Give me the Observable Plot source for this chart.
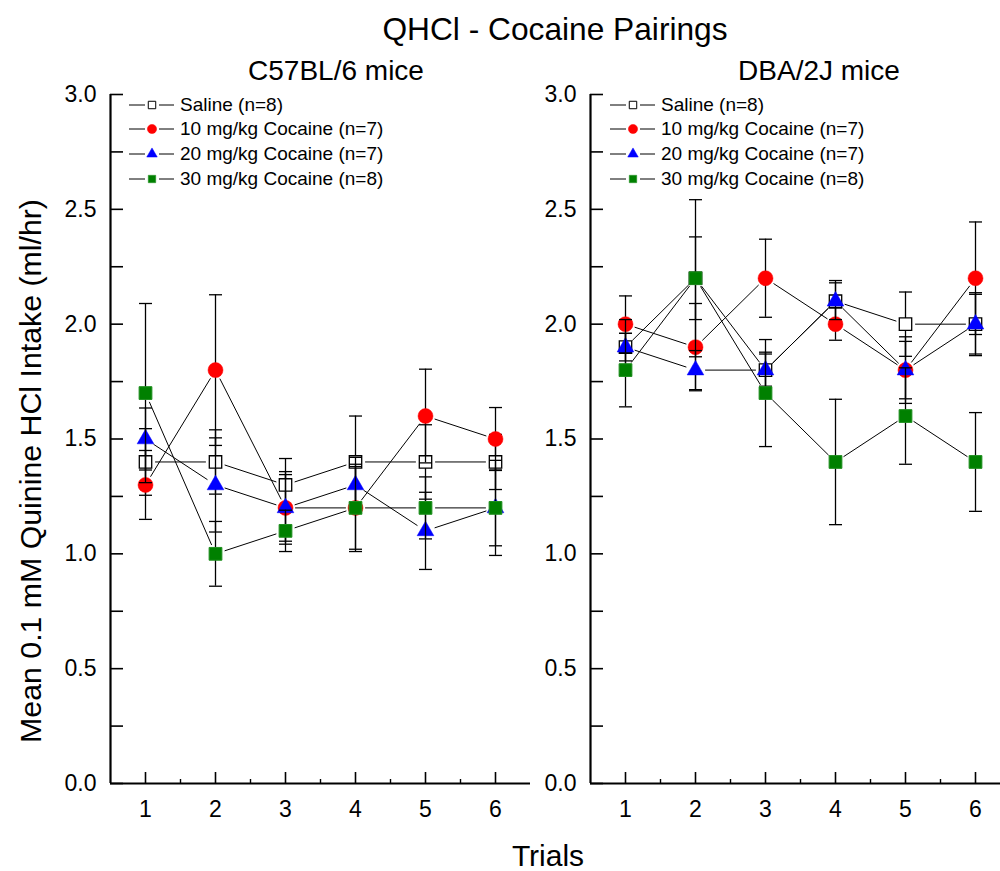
<!DOCTYPE html>
<html>
<head>
<meta charset="utf-8">
<script src="https://cdn.jsdelivr.net/npm/d3@7"></script>
<script src="https://cdn.jsdelivr.net/npm/@observablehq/plot@0.6"></script>
<style>
  html, body { margin: 0; padding: 0; background: #fff; overflow: hidden; }
  #wrap { position: relative; width: 1000px; height: 871px; overflow: hidden;
          font-family: "Liberation Sans", Arial, Helvetica, sans-serif; color: #000; }
  #wrap > svg.plot { position: absolute; left: 0; top: 0; max-width: none !important;
          width: 1011px !important; height: 871px !important; }
  .lbl { position: absolute; white-space: nowrap; line-height: 1; transform: translate(-50%, -50%); }
  .leg { position: absolute; white-space: nowrap; line-height: 1; font-size: 19px; }
  .legsym { position: absolute; }
</style>
</head>
<body>
<div id="wrap"></div>
<script>
// Facets (mouse strains), trials and treatment groups
const strains = ["C57BL/6", "DBA/2J"];
const strainTitles = ["C57BL/6 mice", "DBA/2J mice"];
const trials = [1, 2, 3, 4, 5, 6];
const groups = ["Saline (n=8)", "10 mg/kg Cocaine (n=7)", "20 mg/kg Cocaine (n=7)", "30 mg/kg Cocaine (n=8)"];

// C57BL/6: mean intake (ml/hr) per trial, and SEM
const c57Saline = [1.4, 1.4, 1.3, 1.4, 1.4, 1.4];
const c57Coc10  = [1.3, 1.8, 1.2, 1.2, 1.6, 1.5];
const c57Coc20  = [1.5, 1.3, 1.2, 1.3, 1.1, 1.2];
const c57Coc30  = [1.7, 1.0, 1.1, 1.2, 1.2, 1.2];
const c57SalineErr = [0.145, 0.14, 0.115, 0.2, 0.162, 0.12];
const c57Coc10Err  = [0.15, 0.328, 0.158, 0.19, 0.204, 0.137];
const c57Coc20Err  = [0.135, 0.205, 0.145, 0.12, 0.168, 0.207];
const c57Coc30Err  = [0.39, 0.141, 0.09, 0.18, 0.135, 0.165];

// DBA/2J: mean intake (ml/hr) per trial, and SEM
const dbaSaline = [1.9, 2.2, 1.8, 2.1, 2.0, 2.0];
const dbaCoc10  = [2.0, 1.9, 2.2, 2.0, 1.8, 2.2];
const dbaCoc20  = [1.9, 1.8, 1.8, 2.1, 1.8, 2.0];
const dbaCoc30  = [1.8, 2.2, 1.7, 1.4, 1.6, 1.4];
const dbaSalineErr = [0.06, 0.18, 0.078, 0.09, 0.14, 0.137];
const dbaCoc10Err  = [0.123, 0.19, 0.17, 0.07, 0.145, 0.245];
const dbaCoc20Err  = [0.12, 0.085, 0.07, 0.08, 0.125, 0.13];
const dbaCoc30Err  = [0.16, 0.342, 0.233, 0.273, 0.21, 0.215];

// Axis ticks
const yMajorTicks = [0, 0.5, 1.0, 1.5, 2.0, 2.5, 3.0];
const yAllTicks = [0, 0.25, 0.5, 0.75, 1.0, 1.25, 1.5, 1.75, 2.0, 2.25, 2.5, 2.75, 3.0];
const xMinorTicks = [1.5, 2.5, 3.5, 4.5, 5.5];

const titleText = "QHCl - Cocaine Pairings";
const yLabelText = "Mean 0.1 mM Quinine HCl Intake (ml/hr)";
const xLabelText = "Trials";

// ---- tidy tables built from the arrays above ----
const means = {"C57BL/6": [c57Saline, c57Coc10, c57Coc20, c57Coc30],
               "DBA/2J": [dbaSaline, dbaCoc10, dbaCoc20, dbaCoc30]};
const errs  = {"C57BL/6": [c57SalineErr, c57Coc10Err, c57Coc20Err, c57Coc30Err],
               "DBA/2J": [dbaSalineErr, dbaCoc10Err, dbaCoc20Err, dbaCoc30Err]};

const rows = [];
const segments = [];
for (const s of strains) {
  groups.forEach((g, gi) => {
    trials.forEach((t, ti) => {
      rows.push({strain: s, group: g, trial: t, mean: means[s][gi][ti], err: errs[s][gi][ti]});
      if (ti < trials.length - 1) {
        segments.push({strain: s, group: g, t1: t, m1: means[s][gi][ti], t2: trials[ti + 1], m2: means[s][gi][ti + 1]});
      }
    });
  });
}

// marker styling per group
const groupSymbol = ["square", "circle", "triangle", "square"];
const groupFill = ["#ffffff", "#ff0000", "#0000ff", "#008000"];
const groupStroke = ["#000000", "#ff0000", "#0000ff", "#1f8f1f"];
const groupStrokeWidth = [1.3, 0.5, 0.5, 1];
const groupR = [7.0, 7.5, 6.2, 7.2];

// horizontal error-bar cap
const capSymbol = {draw(ctx) { ctx.moveTo(-6.5, 0); ctx.lineTo(6.5, 0); }};

const seriesMarks = [];
groups.forEach((g, gi) => {
  const gr = rows.filter(d => d.group === g);
  const gs = segments.filter(d => d.group === g);
  seriesMarks.push(
    Plot.arrow(gs, {x1: "t1", y1: "m1", x2: "t2", y2: "m2", fx: "strain",
      headLength: 0, inset: 10, stroke: "#000", strokeWidth: 1}),
    Plot.ruleX(gr, {x: "trial", y1: d => d.mean - d.err, y2: d => d.mean + d.err, fx: "strain",
      stroke: "#000", strokeWidth: 1.3}),
    Plot.dot(gr, {x: "trial", y: d => d.mean + d.err, fx: "strain", symbol: capSymbol, r: 5,
      stroke: "#000", strokeWidth: 1.3, fill: "none"}),
    Plot.dot(gr, {x: "trial", y: d => d.mean - d.err, fx: "strain", symbol: capSymbol, r: 5,
      stroke: "#000", strokeWidth: 1.3, fill: "none"}),
    Plot.dot(gr, {x: "trial", y: "mean", fx: "strain", symbol: groupSymbol[gi], r: groupR[gi],
      fill: groupFill[gi], stroke: groupStroke[gi], strokeWidth: groupStrokeWidth[gi]})
  );
});

const chart = Plot.plot({
  width: 1011,
  height: 871,
  marginLeft: 109,
  marginRight: 0,
  marginTop: 94,
  marginBottom: 88,
  style: {fontFamily: "'Liberation Sans', Arial, sans-serif", background: "#fff", color: "#000", overflow: "visible"},
  fx: {domain: strains, paddingInner: 0.1247, paddingOuter: 0, axis: null},
  x: {domain: [0.5, 6.5]},
  y: {domain: [0, 3]},
  marks: [
    // axis ticks (inward) and labels, repeated in each panel
    Plot.axisY(yAllTicks, {tickSize: -13, tickFormat: () => "", strokeWidth: 1.6, facetAnchor: null, label: null}),
    Plot.axisY(yMajorTicks, {tickSize: 0, tickPadding: 14, tickFormat: d3.format(".1f"), fontSize: 23, facetAnchor: null, label: null}),
    Plot.axisX(trials, {tickSize: -11, tickFormat: () => "", strokeWidth: 1.6, facetAnchor: null, label: null}),
    Plot.axisX(xMinorTicks, {tickSize: -4, tickFormat: () => "", strokeWidth: 1.4, facetAnchor: null, label: null}),
    Plot.axisX(trials, {tickSize: 0, tickPadding: 17, tickFormat: d3.format("d"), fontSize: 23, facetAnchor: null, label: null}),
    Plot.ruleX([0.5], {stroke: "#000", strokeWidth: 2.2}),
    Plot.ruleY([0], {stroke: "#000", strokeWidth: 2.2}),
    ...seriesMarks
  ]
});
chart.classList.add("plot");

const wrap = document.getElementById("wrap");
wrap.appendChild(chart);

// titles and axis labels
function addLabel(text, x, y, size, extra) {
  const d = document.createElement("div");
  d.className = "lbl";
  d.textContent = text;
  d.style.left = x + "px";
  d.style.top = y + "px";
  d.style.fontSize = size + "px";
  if (extra) d.style.transform = extra;
  wrap.appendChild(d);
  return d;
}
addLabel(titleText, 555, 30, 31.7);
addLabel(strainTitles[0], 336, 71, 28);
addLabel(strainTitles[1], 819, 71, 28);
addLabel(xLabelText, 548, 856, 30);
addLabel(yLabelText, 31, 471, 30.3, "translate(-50%, -50%) rotate(-90deg)");

// legend, one per panel
const panelOffsets = [0, 481];
panelOffsets.forEach(ox => {
  groups.forEach((g, gi) => {
    const cy = 104.5 + gi * 24.7;
    const svg = d3.select(wrap).append("svg")
      .attr("class", "legsym")
      .attr("width", 50).attr("height", 20)
      .style("left", (127 + ox) + "px").style("top", (cy - 10) + "px");
    svg.append("line").attr("x1", 2).attr("x2", 18).attr("y1", 10).attr("y2", 10)
      .attr("stroke", "#000").attr("stroke-width", 1);
    svg.append("line").attr("x1", 32).attr("x2", 47).attr("y1", 10).attr("y2", 10)
      .attr("stroke", "#000").attr("stroke-width", 1);
    const sym = {square: d3.symbolSquare, circle: d3.symbolCircle, triangle: d3.symbolTriangle}[groupSymbol[gi]];
    const rr = [4.2, 4.6, 3.9, 4.2][gi];
    svg.append("path")
      .attr("d", d3.symbol(sym, Math.PI * rr * rr)())
      .attr("transform", "translate(25,10)")
      .attr("fill", groupFill[gi])
      .attr("stroke", groupStroke[gi])
      .attr("stroke-width", gi === 0 ? 1 : 0.5);
    const t = document.createElement("div");
    t.className = "leg";
    t.textContent = g;
    t.style.left = (180 + ox) + "px";
    t.style.top = (cy - 10) + "px";
    wrap.appendChild(t);
  });
});
</script>
</body>
</html>
